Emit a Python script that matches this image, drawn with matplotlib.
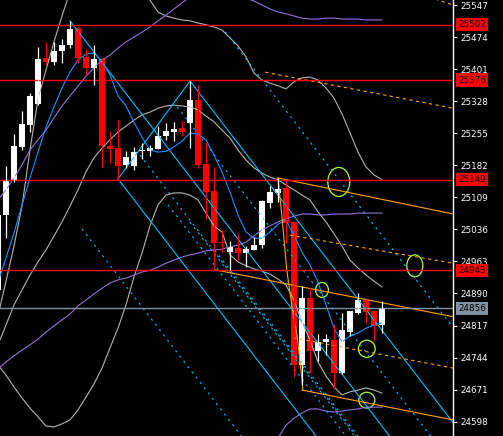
import numpy as np
import matplotlib.pyplot as plt
from matplotlib.patches import Ellipse

# candles (bar -1 is the half hidden one on the left edge)
bars = list(range(-1, 48))
opens = [24898, 25069, 25148, 25224, 25274, 25322, 25426, 25417, 25442, 25456,
         25494, 25429, 25404, 25424, 25226, 25221, 25183, 25180, 25215, 25214,
         25219, 25249, 25258, 25267, 25278, 25331, 25185, 25123, 25005, 24985,
         24994, 24982, 24989, 25000, 25096, 25119, 25130, 25053, 24727, 24880,
         24759, 24780, 24784, 24709, 24802, 24846, 24875, 24850, 24818]
highs = [25080, 25180, 25253, 25306, 25347, 25451, 25463, 25463, 25470, 25511,
         25496, 25447, 25456, 25426, 25260, 25285, 25214, 25224, 25233, 25228,
         25271, 25278, 25281, 25283, 25374, 25365, 25235, 25178, 25035, 25010,
         25026, 24998, 25019, 25103, 25135, 25153, 25149, 25053, 24907, 24905,
         24798, 24798, 24821, 24846, 24851, 24891, 24880, 24851, 24873]
lows = [24875, 25016, 25144, 25217, 25258, 25319, 25410, 25410, 25415, 25449,
        25415, 25388, 25365, 25178, 25187, 25151, 25176, 25171, 25196, 25203,
        25219, 25240, 25237, 25249, 25221, 25176, 25060, 24944, 24985, 24944,
        24966, 24950, 24989, 24994, 25085, 25098, 25005, 24700, 24682, 24709,
        24736, 24750, 24675, 24707, 24793, 24843, 24823, 24784, 24800]
closes = [25069, 25148, 25226, 25276, 25340, 25424, 25417, 25442, 25456, 25492,
          25426, 25404, 25424, 25226, 25219, 25180, 25201, 25212, 25217, 25221,
          25249, 25260, 25265, 25258, 25331, 25183, 25121, 25005, 25004, 24996,
          24982, 24991, 25000, 25101, 25121, 25128, 25051, 24727, 24880, 24759,
          24780, 24786, 24709, 24807, 24850, 24875, 24848, 24816, 24856]

# moving average (blue)
ma_fast = [24916, 24971, 25028, 25091, 25153, 25212, 25269, 25315, 25358, 25394,
           25422, 25435, 25438, 25419, 25388, 25340, 25317, 25280, 25246, 25217,
           25212, 25214, 25224, 25237, 25255, 25253, 25240, 25205, 25167, 25121,
           25069, 25030, 25016, 25016, 25030, 25048, 25057, 25023, 24984, 24955,
           24916, 24864, 24811, 24780, 24793, 24800, 24811, 24818, 24823]

# gray bands
gray_up = [24839, 24918, 24998, 25089, 25217, 25333, 25399, 25463, 25522, 25577,
           25627, 25661, 25684, 25695, 25695, 25684, 25668, 25638, 25604, 25558,
           25531, 25522, 25517, 25513, 25511, 25506, 25502, 25497, 25490, 25472,
           25454, 25429, 25392, 25376, 25369, 25363, 25356, 25372, 25381, 25383,
           25376, 25358, 25335, 25299, 25256, 25212, 25178, 25160, 25149]
gray_mid = [24773, 24818, 24864, 24898, 24932, 24962, 24989, 25021, 25053, 25089,
            25126, 25167, 25199, 25221, 25240, 25258, 25271, 25285, 25297, 25303,
            25312, 25317, 25319, 25317, 25315, 25308, 25294, 25281, 25262, 25244,
            25217, 25194, 25176, 25164, 25155, 25149, 25137, 25126, 25114, 25103,
            25076, 25053, 25026, 24998, 24966, 24948, 24932, 24918, 24905]
gray_low = [24727, 24704, 24677, 24652, 24629, 24609, 24588, 24586, 24593, 24602,
            24625, 24654, 24684, 24720, 24766, 24811, 24864, 24928, 24982, 25044,
            25092, 25114, 25119, 25119, 25114, 25103, 25073, 25044, 25030, 24978,
            24962, 24953, 24946, 24941, 24934, 24923, 24909, 24875, 24825, 24784,
            24734, 24702, 24677, 24659, 24666, 24670, 24675, 24670, 24663]

# purple bands
purple_up = [25103, 25126, 25153, 25183, 25217, 25240, 25262, 25290, 25317, 25340,
             25362, 25385, 25404, 25422, 25433, 25449, 25463, 25474, 25485, 25497,
             25511, 25524, 25538, 25552, 25565, 25577, 25581, 25581, 25579, 25574,
             25570, 25563, 25556, 25547, 25538, 25531, 25527, 25522, 25517, 25515,
             25515, 25517, 25517, 25515, 25515, 25515, 25513, 25513, 25513]
purple_mid = [24718, 24734, 24748, 24761, 24773, 24786, 24802, 24816, 24830, 24843,
              24862, 24875, 24889, 24902, 24914, 24921, 24925, 24932, 24939, 24943,
              24950, 24959, 24966, 24973, 24978, 24982, 24987, 24989, 24991, 24996,
              25000, 25007, 25021, 25035, 25044, 25053, 25060, 25066, 25071, 25071,
              25069, 25069, 25071, 25071, 25071, 25073, 25073, 25073, 25073]
purple_low_bars = list(range(30, 48))
purple_low = [24465, 24488, 24506, 24534, 24561, 24590, 24606, 24618, 24627, 24627,
              24622, 24620, 24622, 24625, 24627, 24631, 24631, 24631]

# pitchfork anchors (bar, price): A high, B low, C high
fork_bars = [8, 14, 23]
fork_prices = [25511, 25151, 25374]
# dotted parallels: start points (bar, price)
dot_bars = [27.4, 21.4, 16.75, 9.5, 20.25, 23, 26.1]
dot_prices = [25486, 25315, 25205, 25037, 25092, 25053, 24989]

# orange channel: start and end (bar, price)
ch_solid = [((34, 25153), (55.9, 25071)),
            ((26.1, 24944), (55.9, 24837)),
            ((37, 24670), (55.9, 24602))]
ch_dash = [((35.5, 25023), (55.9, 24959)),
           ((35.9, 24789), (55.9, 24720)),
           ((32.4, 25394), (55.9, 25312)),
           ((51, 25577), (55.9, 25547))]
zig_bars = [34, 34.5, 35.1, 35.75, 36.4, 37, 37.1]
zig_prices = [25153, 25064, 24943, 24860, 24791, 24693, 24670]

# green circles
circ_bars = [41.6, 51.1, 39.5, 45.1, 45.1]
circ_prices = [25144, 24953, 24898, 24764, 24647]
circ_w = [2.75, 2.0, 1.6, 2.1, 2.0]
circ_h = [66, 50, 34, 39, 36]

red_levels = [25502, 25376, 25149, 24943]
last_price = 24856
yticks = [24598, 24671, 24744, 24817, 24890, 24963, 25036, 25109,
          25182, 25255, 25328, 25401, 25474, 25547]

fig = plt.figure(figsize=(5.03, 4.36), dpi=100, facecolor='black')
ax = fig.add_axes([0, 0, 453 / 503, 1], facecolor='black')
ax.set_xlim(-0.75, 55.875)
ax.set_ylim(24565.4, 25558.4)

x = np.array(bars)
lw = 0.8

ax.plot(x, gray_up, color='#b4b4b4', lw=lw)
ax.plot(x, gray_mid, color='#b4b4b4', lw=lw)
ax.plot(x, gray_low, color='#b4b4b4', lw=lw)
ax.plot(x, purple_up, color='#9370db', lw=lw)
ax.plot(x, purple_mid, color='#9370db', lw=lw)
ax.plot(purple_low_bars, purple_low, color='#9370db', lw=lw)

# pitchfork
ax_, bx, cx = fork_bars
ap, bp, cp = fork_prices
mx, mp = (bx + cx) / 2, (bp + cp) / 2
slope = (mp - ap) / (mx - ax_)
far = 70
cyan = '#00bfff'
ax.plot([ax_, far], [ap, ap + slope * (far - ax_)], color=cyan, lw=lw)
ax.plot([bx, far], [bp, bp + slope * (far - bx)], color=cyan, lw=lw)
ax.plot([cx, far], [cp, cp + slope * (far - cx)], color=cyan, lw=lw)
ax.plot([bx, cx], [bp, cp], color=cyan, lw=lw)
for b, p in zip(dot_bars, dot_prices):
    ax.plot([b, far], [p, p + slope * (far - b)], color=cyan, lw=lw,
            linestyle=(0, (2, 4)))

ax.plot(x, ma_fast, color='#1e90ff', lw=lw)

orange = '#ffa500'
for (b0, p0), (b1, p1) in ch_solid:
    ax.plot([b0, b1], [p0, p1], color=orange, lw=lw)
for (b0, p0), (b1, p1) in ch_dash:
    ax.plot([b0, b1], [p0, p1], color=orange, lw=lw, linestyle=(0, (3, 3)))
ax.plot(zig_bars, zig_prices, color=orange, lw=lw)

for lvl in red_levels:
    ax.axhline(lvl, color='red', lw=1.0)
ax.axhline(last_price, color='#8090a0', lw=1.0)

# candles
for b, o, h, l, c in zip(bars, opens, highs, lows, closes):
    col = 'white' if c >= o else 'red'
    ax.vlines(b, l, h, color=col, lw=0.9)
    lo, hi = min(o, c), max(o, c)
    ax.bar(b, max(hi - lo, 2.5), bottom=lo, width=0.68, color=col,
           edgecolor='none')

for b, p, w, h in zip(circ_bars, circ_prices, circ_w, circ_h):
    ax.add_patch(Ellipse((b, p), w, h, fill=False, edgecolor='#adff2f', lw=0.9))

for s in ['left', 'top', 'bottom']:
    ax.spines[s].set_visible(False)
ax.spines['right'].set_color('white')
ax.spines['right'].set_linewidth(1)
ax.set_xticks([])
ax.yaxis.tick_right()
ax.set_yticks(yticks)
ax.set_yticklabels([str(t) for t in yticks])
ax.tick_params(axis='y', colors='white', length=3, width=0.8,
               labelsize=6.3, pad=2)

tr = ax.get_yaxis_transform()
for lvl in red_levels:
    ax.text(1.0 + 5 / 453, lvl, str(lvl), transform=tr, fontsize=6.3,
            color='black', va='center', ha='left', clip_on=False,
            bbox=dict(boxstyle='square,pad=0.25', fc='red', ec='none'))
ax.text(1.0 + 5 / 453, last_price, str(last_price), transform=tr, fontsize=6.3,
        color='black', va='center', ha='left', clip_on=False,
        bbox=dict(boxstyle='square,pad=0.25', fc='#8090a0', ec='none'))

fig.savefig('out.png', dpi=100, facecolor='black')
